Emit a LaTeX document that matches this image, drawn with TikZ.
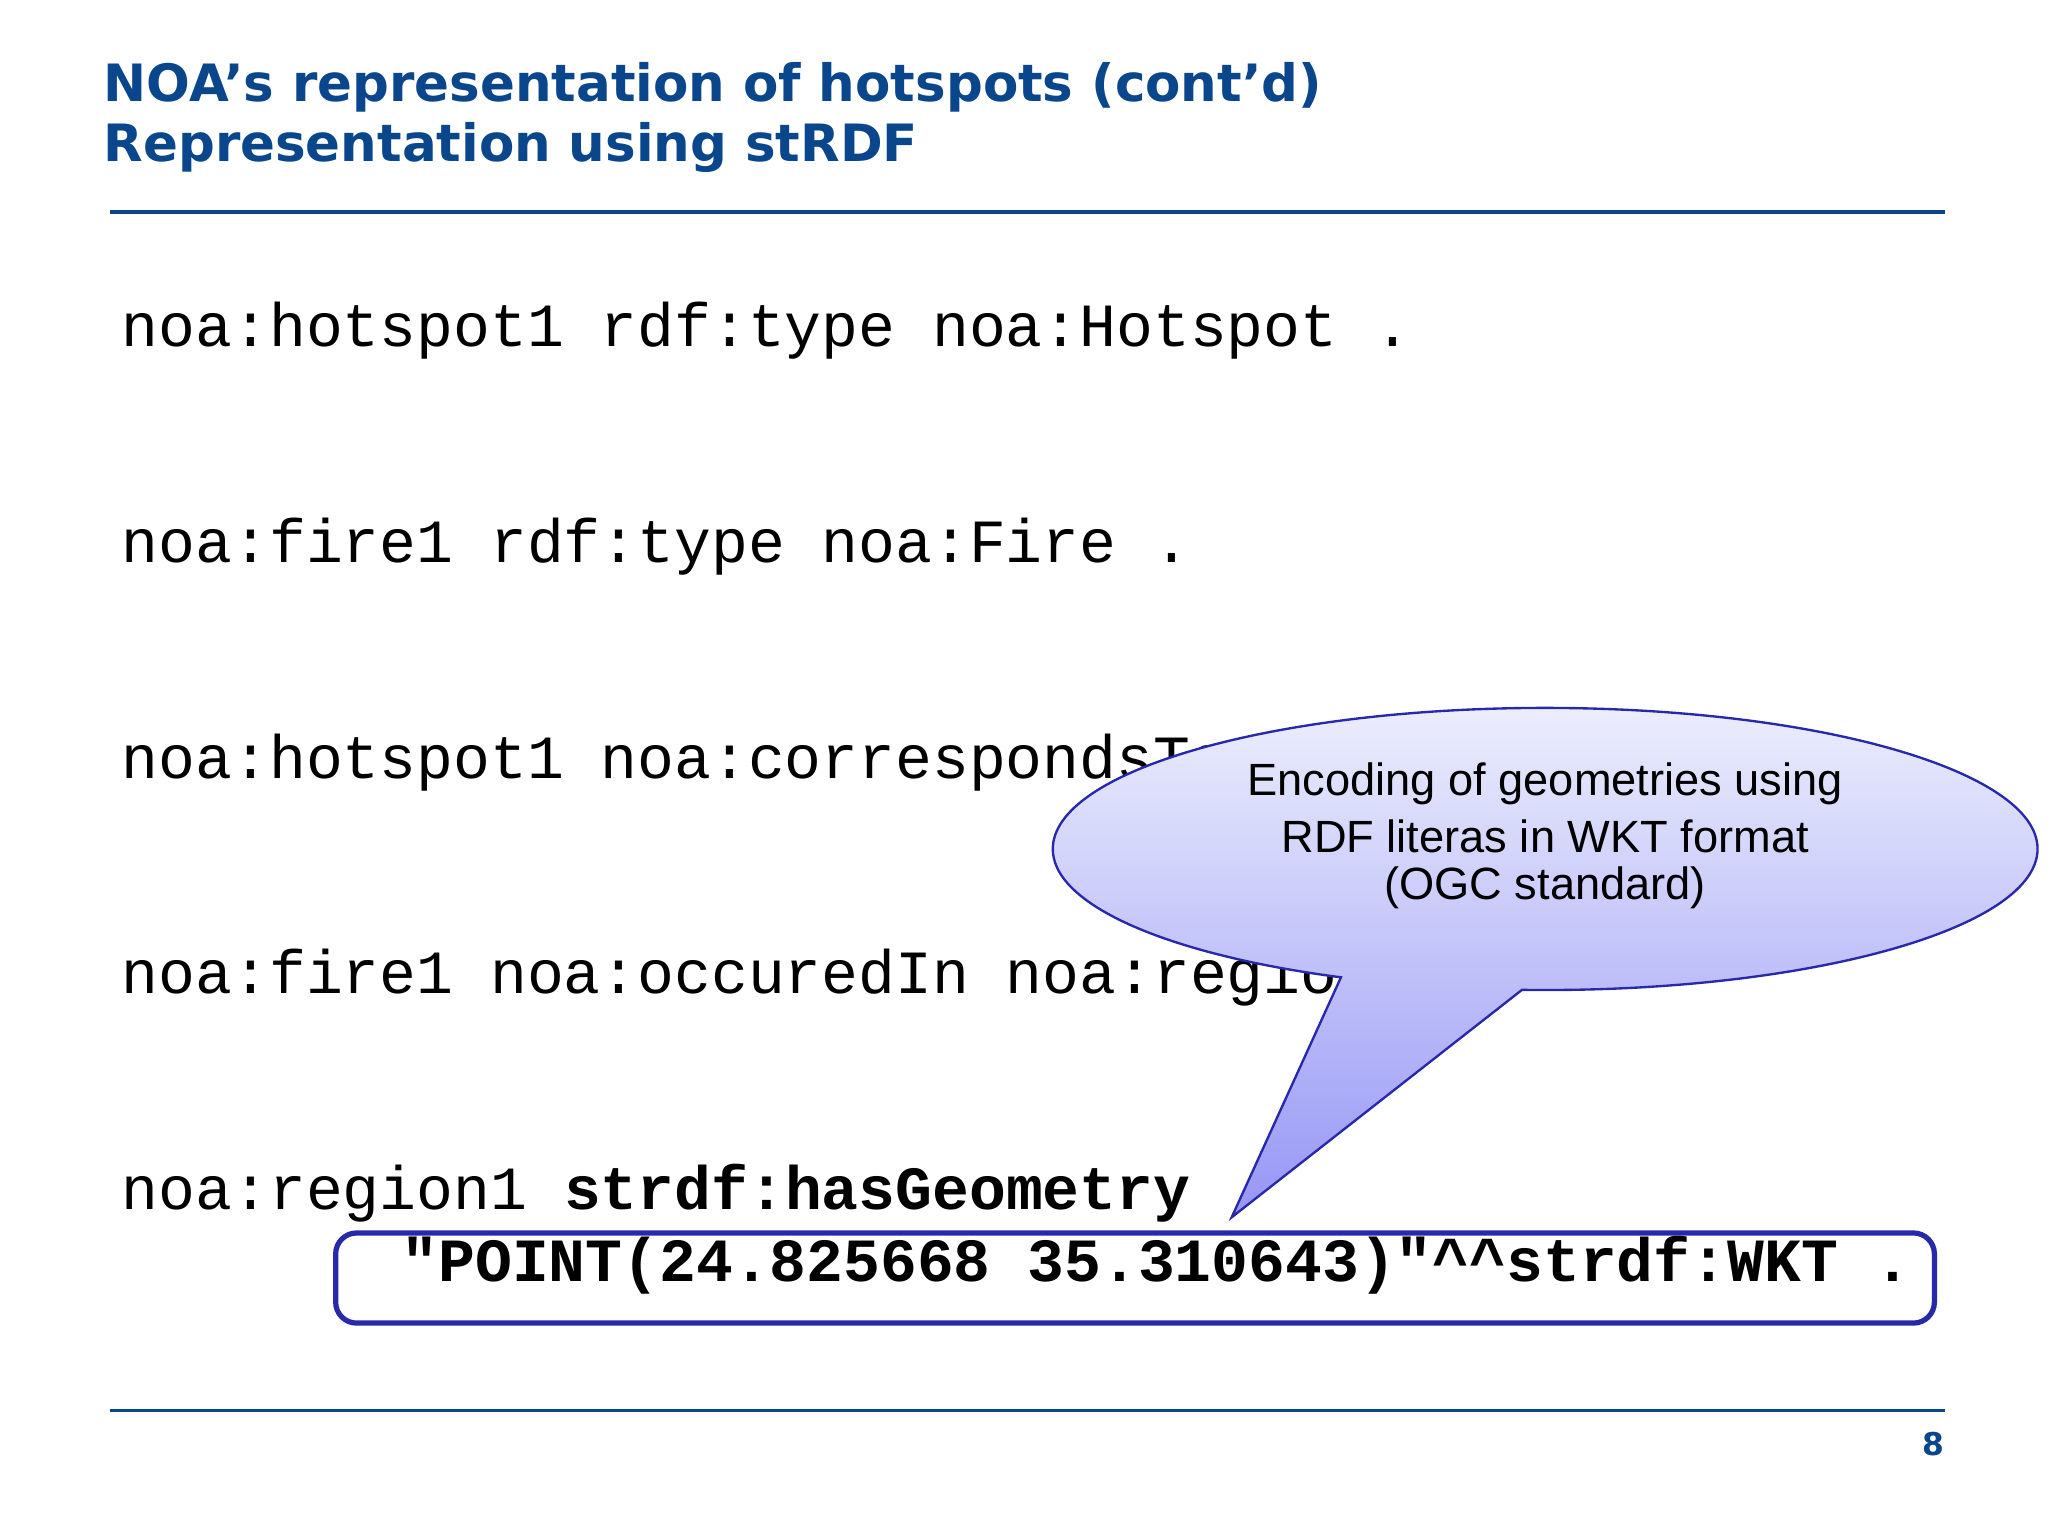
\documentclass[tikz,border=0pt]{standalone}
\usepackage{fontspec}
\usetikzlibrary{calc}
\setmainfont{Liberation Sans}
\newfontfamily\titlefont{DejaVu Sans}
\newfontfamily\codefont{Liberation Mono}
\definecolor{titleblue}{RGB}{10,70,140}
\definecolor{boxblue}{RGB}{40,40,170}
\definecolor{calltop}{RGB}{236,238,252}
\definecolor{callbot}{RGB}{150,150,245}
\begin{document}
\begin{tikzpicture}[x=0.5pt,y=0.5pt,
  title/.style={anchor=base west,inner sep=0pt,font=\titlefont\bfseries\fontsize{19.7}{22}\selectfont,text=titleblue},
  code/.style={anchor=base west,inner sep=0pt,font=\codefont\fontsize{23.5}{26}\selectfont},
  calltext/.style={inner sep=0pt,font=\fontsize{17.3}{20}\selectfont}]
\useasboundingbox (0,0) rectangle (1568,1176);
\fill[white] (0,0) rectangle (1568,1176);
\node[title] (t1) at (79,1098) {NOA’s representation of hotspots (cont’d)};
\node[title] (t2) at (79,1052) {Representation using stRDF};
\draw[titleblue,line width=1.5pt] (84,1014) -- (1489,1014);
\draw[titleblue,line width=1.2pt] (84,96) -- (1489,96);
\node[anchor=base,inner sep=0pt,font=\titlefont\bfseries\fontsize{12}{14}\selectfont,text=titleblue] (pg) at (1480,62) {8};
\node[code] (c1) at (93,911) {noa:hotspot1 rdf:type noa:Hotspot .};
\node[code] (c2) at (93,745) {noa:fire1 rdf:type noa:Fire .};
\node[code] (c3) at (93,580) {noa:hotspot1 noa:correspondsTo noa:fire1 .};
\node[code] (c4) at (93,415) {noa:fire1 noa:occuredIn noa:region1 .};
\node[code] (c5) at (93,250) {noa:region1 \textbf{strdf:hasGeometry}};
\node[code] (c6) at (307,195) {\textbf{"POINT(24.825668 35.310643)"\^{}\^{}strdf:WKT .}};
\draw[boxblue,line width=2pt,rounded corners=8pt] (257,232) rectangle (1481,163);
\path[draw=boxblue,line width=0.9pt,top color=calltop,bottom color=callbot]
  ($(1183,526)+(-92.7:377 and 108)$) arc[start angle=-92.7,end angle=245.5,x radius=377,y radius=108]
  -- (943,244) -- cycle;
\node[calltext] (n1) at (1183,576) {Encoding of geometries using};
\node[calltext] (n2) at (1183,536) {RDF literas in WKT format};
\node[calltext] (n3) at (1183,496) {(OGC standard)};
\end{tikzpicture}
\end{document}
